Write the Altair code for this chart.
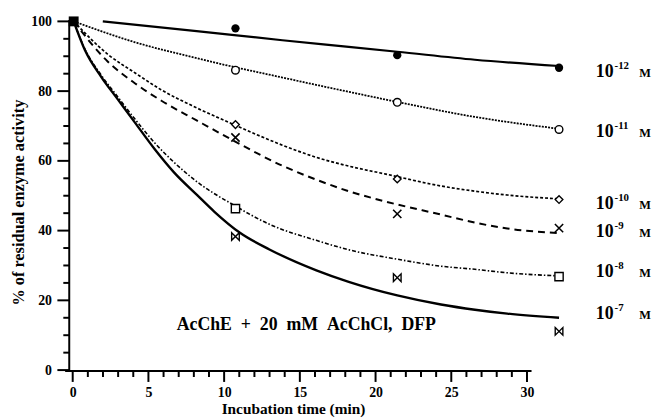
import altair as alt
import pandas as pd

# ---------------- data ----------------
# fitted curves (time in min, % residual activity)
c12_t = [1.8, 7.6, 12.9, 17.0, 20.0, 24.8, 30.0]
c12_v = [100, 97.2, 94.6, 92.7, 91.3, 89.0, 87.2]

c11_t = [0, 3.8, 7.65, 8.9, 12.9, 17.0, 20.0, 24.8, 30.0]
c11_v = [100, 94.0, 89.4, 88.0, 83.9, 79.8, 76.9, 72.6, 69.2]

c10_t = [0, 2.1, 3.8, 5.4, 7.6, 9.8, 12.9, 15.0, 17.0, 19.3, 22.7, 24.8, 26.8, 30.0]
c10_v = [100, 90.6, 85.2, 80.4, 75.2, 70.6, 64.5, 61.0, 58.5, 56.2, 52.8, 51.3, 50.2, 49.1]

c9_t = [0, 2.1, 3.8, 5.4, 7.6, 9.8, 12.9, 15.0, 17.0, 19.3, 22.7, 24.8, 26.8, 30.0]
c9_v = [100, 88.5, 82.2, 77.3, 71.6, 66.0, 58.6, 54.6, 51.3, 48.3, 44.6, 42.3, 40.6, 39.3]

c8_t = [0, 0.7, 1.7, 2.75, 3.8, 5.0, 6.2, 7.65, 9.9, 12.1, 15.0, 17.0, 20.0, 22.7, 24.8, 26.8, 30.0]
c8_v = [100, 92.0, 84.6, 78.2, 71.9, 65.2, 59.6, 53.9, 47.3, 41.8, 37.2, 34.5, 31.8, 29.8, 28.9, 27.9, 27.0]

c7_t = [0, 0.7, 1.7, 2.75, 3.8, 5.0, 6.2, 7.65, 8.7, 10.3, 12.1, 15.0, 17.0, 20.0, 22.7, 24.8, 26.8, 30.0]
c7_v = [100, 91.7, 84.1, 77.5, 70.9, 63.4, 56.7, 50.1, 45.4, 39.3, 34.6, 28.6, 25.3, 21.4, 18.8, 17.3, 16.2, 15.0]

# measured points
m_t = [10, 20, 30]
m12_v = [98.0, 90.3, 86.7]   # filled circle
m11_v = [86.0, 76.8, 69.0]   # open circle
m10_v = [70.4, 54.8, 48.9]   # diamond
m9_v = [66.7, 44.8, 40.7]    # x
m8_t = [10, 30]
m8_v = [46.3, 26.8]          # open square
m7_v = [38.3, 26.5, 11.1]    # bow-tie
origin_t = [0]
origin_v = [100]

# axis ticks
x_major = [0, 5, 10, 15, 20, 25, 30]
x_minor = list(range(0, 31))
y_major = [0, 20, 40, 60, 80, 100]
y_minor = list(range(0, 101, 5))

# concentration labels at right
label_exps = ["-12", "-11", "-10", "-9", "-8", "-7"]
label_levels = [85.6, 68.3, 47.6, 39.7, 28.0, 16.1]

annotation = "AcChE\u00a0\u00a0+\u00a0\u00a020\u00a0\u00a0mM\u00a0\u00a0AcChCl,\u00a0\u00a0DFP"

# ---------------- chart ----------------
FONT = "Liberation Serif"
W, H = 483, 366          # view also holds the tick area
AX = 15                  # y axis line, px from view left
AY = 354                 # x axis line, px from view top

XD = alt.Scale(domain=[-1.19, 28.30], nice=False, zero=False)   # data points
XA = alt.Scale(domain=[-1.207, 30.30], nice=False, zero=False)  # time axis
YS = alt.Scale(domain=[-3.68, 100], nice=False, zero=False)

PX_PER_MIN = W / (30.30 + 1.207)
PX_PER_PCT = H / (100 + 3.68)
X_AXIS_T = -1.207 + AX / PX_PER_MIN      # time at the y-axis line
Y_AXIS_V = 100 - AY / PX_PER_PCT         # value at the x-axis line

common = dict(ticks=False, domain=False, grid=False,
              labelFont=FONT, labelFontWeight="bold", labelColor="black",
              titleFont=FONT, titleFontWeight="bold", titleColor="black",
              labelOverlap=False, labelFlush=False)

yaxis = alt.Axis(
    values=y_major, orient="left",
    labelFontSize=14, labelPadding=3, labelBaseline="middle",
    title="% of residual enzyme activity", titleFontSize=16.5, titlePadding=4, **common
)
xaxis = alt.Axis(
    values=x_major, orient="bottom",
    labelFontSize=14, labelPadding=3,
    title="Incubation time (min)", titleFontSize=15.5, titlePadding=2, **common
)


def Y():
    return alt.Y("v:Q", scale=YS, axis=None)


def X():
    return alt.X("t:Q", scale=XD, axis=None)


def curve(ts, vs, width, dash=None):
    df = pd.DataFrame({"t": ts, "v": vs})
    kw = dict(interpolate="monotone", color="black", strokeWidth=width)
    if dash:
        kw["strokeDash"] = dash
    return alt.Chart(df).mark_line(**kw).encode(x=X(), y=Y())


def points(ts, vs, shape, size, filled_black=False, sw=1.4):
    df = pd.DataFrame({"t": ts, "v": vs})
    if filled_black:
        m = alt.Chart(df).mark_point(shape=shape, size=size, filled=True, color="black", opacity=1)
    else:
        m = alt.Chart(df).mark_point(shape=shape, size=size, filled=True, fill="white",
                                     stroke="black", strokeWidth=sw, opacity=1)
    return m.encode(x=X(), y=Y())


x_axis_layer = alt.Chart(pd.DataFrame({"a": x_major})).mark_point(opacity=0).encode(
    x=alt.X("a:Q", scale=XA, axis=xaxis))
y_axis_layer = alt.Chart(pd.DataFrame({"a": y_major})).mark_point(opacity=0).encode(
    y=alt.Y("a:Q", scale=YS, axis=yaxis))

y_line = alt.Chart(pd.DataFrame({"lo": [-0.3], "hi": [100.4]})).mark_rule(
    color="black", strokeWidth=2).encode(
    x=alt.value(AX), y=alt.Y("lo:Q", scale=YS, axis=None), y2="hi:Q")
x_line = alt.Chart(pd.DataFrame({"lo": [-0.5], "hi": [30.3]})).mark_rule(
    color="black", strokeWidth=2).encode(
    x=alt.X("lo:Q", scale=XA, axis=None), x2="hi:Q", y=alt.value(AY))

# tick marks (outward), one rule per tick, built from the tick lists
xt_rows = [{"tx": t, "lo": Y_AXIS_V, "hi": Y_AXIS_V - (11 if t in x_major else 6) / PX_PER_PCT}
           for t in x_minor]
yt_rows = [{"ty": v, "lo": X_AXIS_T, "hi": X_AXIS_T - (12 if v in y_major else 6) / PX_PER_MIN}
           for v in y_minor]
xtick_layer = alt.Chart(pd.DataFrame(xt_rows)).mark_rule(color="#000000", strokeWidth=2, opacity=1).encode(
    x=alt.X("tx:Q", scale=XA, axis=None),
    y=alt.Y("lo:Q", scale=YS, axis=None), y2="hi:Q")
ytick_layer = alt.Chart(pd.DataFrame(yt_rows)).mark_rule(color="#000000", strokeWidth=2, opacity=1).encode(
    y=alt.Y("ty:Q", scale=YS, axis=None),
    x=alt.X("lo:Q", scale=XA, axis=None), x2="hi:Q")

lines = [
    curve(c12_t, c12_v, 2.2),
    curve(c11_t, c11_v, 1.8, [2, 1.2]),
    curve(c10_t, c10_v, 1.7, [3, 2]),
    curve(c9_t, c9_v, 2.0, [7, 5]),
    curve(c8_t, c8_v, 1.6, [4, 2, 1.5, 2]),
    curve(c7_t, c7_v, 2.4),
]

markers = [
    points(m_t, m12_v, "circle", 70, filled_black=True),
    points(m_t, m11_v, "circle", 60),
    points(m_t, m10_v, "diamond", 60),
    points(m_t, m9_v, "M-1,-1L1,1M1,-1L-1,1", 70, sw=1.6),
    points(m8_t, m8_v, "square", 70),
    points(m_t, m7_v, "M-1,-1L1,1L1,-1L-1,1Z", 60),
    points(origin_t, origin_v, "square", 100, filled_black=True),
]

lab_df = pd.DataFrame({"exp": label_exps, "v": label_levels})
lab_base = alt.Chart(lab_df).mark_text(
    text="10", align="left", baseline="middle", font=FONT, fontWeight="bold",
    fontSize=18, color="black"
).encode(x=alt.value(548), y=Y())
lab_exp = alt.Chart(lab_df).mark_text(
    align="left", baseline="middle", font=FONT, fontWeight="bold",
    fontSize=11, color="black", dy=-6
).encode(x=alt.value(567), y=Y(), text="exp:N")
lab_m = alt.Chart(lab_df).mark_text(
    text="M", align="left", baseline="middle", font=FONT, fontWeight="bold",
    fontSize=12.5, color="black", dy=1
).encode(x=alt.value(592), y=Y())

annot = alt.Chart(pd.DataFrame({"label": [annotation]})).mark_text(
    align="center", baseline="middle", font=FONT, fontWeight="bold",
    fontSize=18, color="black"
).encode(x=alt.value(255), y=alt.value(307), text="label:N")

chart = alt.layer(
    x_axis_layer, y_axis_layer, y_line, x_line, xtick_layer, ytick_layer, *lines, *markers,
    lab_base, lab_exp, lab_m, annot
).resolve_scale(x="independent", y="independent").properties(
    width=W, height=H,
    padding={"left": 47, "top": 11, "right": 126, "bottom": 35},
    autosize=alt.AutoSizeParams(type="none"),
    background="white",
).configure_view(strokeWidth=0)

chart.save("out.html", embed_options={"renderer": "svg", "actions": False})
